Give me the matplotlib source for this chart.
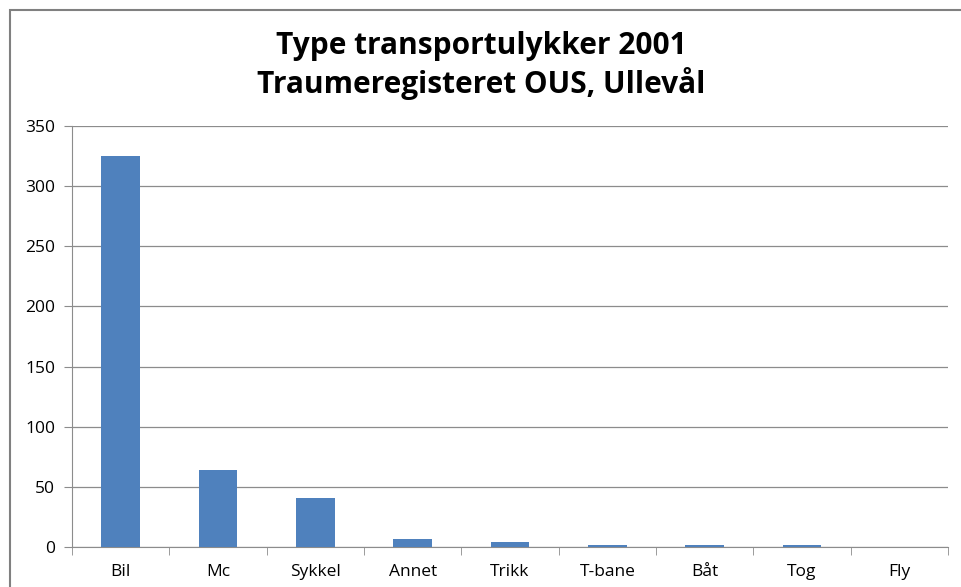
import numpy as np
import matplotlib.pyplot as plt
from matplotlib.patches import Rectangle

# data
categories = ['Bil', 'Mc', 'Sykkel', 'Annet', 'Trikk', 'T-bane', 'Båt', 'Tog', 'Fly']
counts = [325, 64, 41, 7, 4, 2, 1.5, 2, 0]
yticks = [0, 50, 100, 150, 200, 250, 300, 350]

plt.rcParams['font.family'] = ['Open Sans', 'DejaVu Sans']

fig = plt.figure(figsize=(9.62, 5.87), dpi=100)
ax = fig.add_axes([72 / 962, 40 / 587, 876 / 962, 421 / 587])

x = np.arange(len(categories))
ax.bar(x, counts, width=0.4, color='#4f81bd', zorder=3)

ax.set_xlim(-0.5, len(categories) - 0.5)
ax.set_ylim(0, 350)
ax.set_yticks(yticks)
ax.grid(axis='y', color='#8c8c8c', linewidth=0.9, zorder=0)

# category labels at centers, tick marks at boundaries
ax.set_xticks(x)
ax.set_xticklabels(categories, fontsize=12.5)
ax.tick_params(axis='x', length=0, pad=12)
ax.set_xticks(np.arange(-0.5, len(categories)), minor=True)
ax.tick_params(axis='x', which='minor', length=6, color='#8c8c8c', direction='out')
ax.tick_params(axis='y', length=6, color='#8c8c8c', labelsize=12.5, pad=6)

for side in ['top', 'right']:
    ax.spines[side].set_visible(False)
ax.spines['left'].set_color('#8c8c8c')
ax.spines['bottom'].set_color('#8c8c8c')

fig.text(0.5, 0.921, 'Type transportulykker 2001', ha='center', va='center',
         fontsize=21.5, fontweight='bold')
fig.text(0.5, 0.857, 'Traumeregisteret OUS, Ullevål', ha='center', va='center',
         fontsize=21.5, fontweight='bold')

# chart border
fig.patches.append(Rectangle((10 / 962, -0.1), 1.0, 1.1 - 10 / 587, transform=fig.transFigure,
                             fill=False, edgecolor='#808080', linewidth=1.5))

fig.savefig('out.png', dpi=100)
